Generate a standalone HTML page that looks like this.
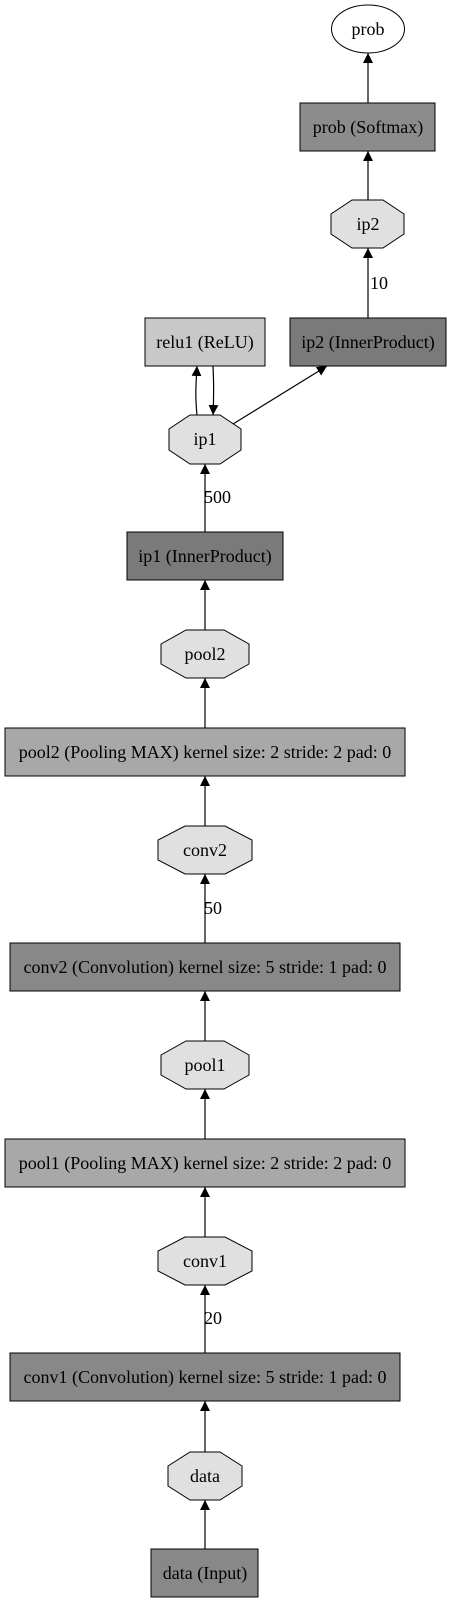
<!DOCTYPE html>
<html><head><meta charset="utf-8"><style>html,body{margin:0;padding:0;background:#fff}svg{display:block}text{font-family:"Liberation Serif",serif;font-size:18px;text-anchor:middle}</style></head><body>
<svg width="451" height="1604" viewBox="0 0 451 1604" xmlns="http://www.w3.org/2000/svg">
<defs><marker id="a" markerWidth="10" markerHeight="10" refX="10" refY="5" orient="auto" markerUnits="userSpaceOnUse"><path d="M0,0 L10,5 L0,10 z" fill="#000"/></marker></defs>
<g stroke="#000" stroke-width="1.2" fill="none" marker-end="url(#a)">
<line x1="368" y1="103" x2="368" y2="53"/>
<line x1="368" y1="200" x2="368" y2="151"/>
<line x1="368" y1="318" x2="368" y2="248"/>
<path d="M197,415 C195,395 196,385 197,366"/>
<path d="M213,366 C214,385 214,395 213,415"/>
<line x1="233" y1="424" x2="327" y2="366"/>
<line x1="205" y1="532" x2="205" y2="464"/>
<line x1="205" y1="630" x2="205" y2="580"/>
<line x1="205" y1="728" x2="205" y2="678"/>
<line x1="205" y1="826" x2="205" y2="776"/>
<line x1="205" y1="943" x2="205" y2="874"/>
<line x1="205" y1="1041" x2="205" y2="991"/>
<line x1="205" y1="1139" x2="205" y2="1089"/>
<line x1="205" y1="1237" x2="205" y2="1187"/>
<line x1="205" y1="1353" x2="205" y2="1285"/>
<line x1="205" y1="1452" x2="205" y2="1401"/>
<line x1="205" y1="1549" x2="205" y2="1500"/>
</g>
<g stroke="#000" stroke-width="1">
<ellipse cx="368" cy="29" rx="36.5" ry="24" fill="#fff"/>
<rect x="300" y="103" width="135" height="48" fill="#8c8c8c"/>
<polygon points="352,200 383,200 404,214 404,234 383,248 352,248 331,234 331,214" fill="#e0e0e0"/>
<rect x="290" y="318" width="156" height="48" fill="#7a7a7a"/>
<rect x="145" y="318" width="120" height="48" fill="#c8c8c8"/>
<polygon points="190,415 220,415 241,429 241,450 220,464 190,464 169,450 169,429" fill="#e0e0e0"/>
<rect x="127" y="532" width="156" height="48" fill="#7a7a7a"/>
<polygon points="186,630 224,630 249,644 249,664 224,678 186,678 161,664 161,644" fill="#e0e0e0"/>
<rect x="5" y="728" width="400" height="48" fill="#a8a8a8"/>
<polygon points="185,826 225,826 252,840 252,860 225,874 185,874 158,860 158,840" fill="#e0e0e0"/>
<rect x="10" y="943" width="390" height="48" fill="#888"/>
<polygon points="186,1041 224,1041 249,1055 249,1075 224,1089 186,1089 161,1075 161,1055" fill="#e0e0e0"/>
<rect x="5" y="1139" width="400" height="48" fill="#a8a8a8"/>
<polygon points="185,1237 225,1237 252,1251 252,1271 225,1285 185,1285 158,1271 158,1251" fill="#e0e0e0"/>
<rect x="10" y="1353" width="390" height="48" fill="#888"/>
<polygon points="190,1452 220,1452 242,1466 242,1486 220,1500 190,1500 168,1486 168,1466" fill="#e0e0e0"/>
<rect x="151" y="1549" width="107" height="48" fill="#888"/>
</g>
<text x="368" y="35">prob</text>
<text x="368" y="133">prob (Softmax)</text>
<text x="368" y="230">ip2</text>
<text x="370" y="289" style="text-anchor:start">10</text>
<text x="368" y="348">ip2 (InnerProduct)</text>
<text x="205" y="348">relu1 (ReLU)</text>
<text x="205" y="445">ip1</text>
<text x="204" y="503" style="text-anchor:start">500</text>
<text x="205" y="562">ip1 (InnerProduct)</text>
<text x="205" y="660">pool2</text>
<text x="205" y="758">pool2 (Pooling MAX) kernel size: 2 stride: 2 pad: 0</text>
<text x="205" y="856">conv2</text>
<text x="204" y="914" style="text-anchor:start">50</text>
<text x="205" y="973">conv2 (Convolution) kernel size: 5 stride: 1 pad: 0</text>
<text x="205" y="1071">pool1</text>
<text x="205" y="1169">pool1 (Pooling MAX) kernel size: 2 stride: 2 pad: 0</text>
<text x="205" y="1267">conv1</text>
<text x="204" y="1324" style="text-anchor:start">20</text>
<text x="205" y="1383">conv1 (Convolution) kernel size: 5 stride: 1 pad: 0</text>
<text x="205" y="1482">data</text>
<text x="205" y="1579">data (Input)</text>
</svg>
</body></html>
